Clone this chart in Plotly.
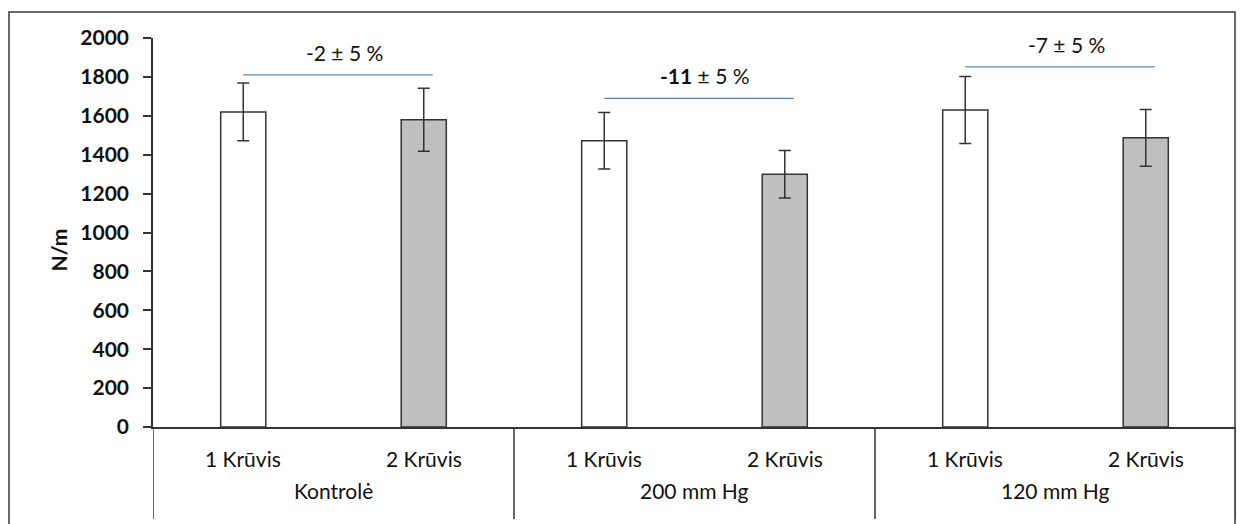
import plotly.graph_objects as go

# duomenys
groups = ["Kontrolė", "200 mm Hg", "120 mm Hg"]
loads = ["1 Krūvis", "2 Krūvis"]
load1_values = [1620, 1472, 1630]
load1_errors = [148, 145, 172]
load2_values = [1580, 1300, 1487]
load2_errors = [162, 122, 146]
diff_labels = ["-2 ± 5 %", "<b>-11</b> ± 5 %", "-7 ± 5 %"]
diff_levels = [1810, 1690, 1852]

W, H = 1240, 524
L, R, T, B = 153, 4, 38, 97
PW, PH = W - L - R, H - T - B
FONT = "Lato"
INK = "#333333"
TXT = "#111111"


def px_x(px):
    return (px - L) / PW


def px_y(py):
    return (H - B - py) / PH


x1 = [2 * i for i in range(len(groups))]
x2 = [2 * i + 1 for i in range(len(groups))]

fig = go.Figure()
fig.add_trace(go.Bar(
    x=x1, y=load1_values, width=0.25,
    marker=dict(color="white", line=dict(color=INK, width=1.5)),
    error_y=dict(type="data", array=load1_errors, color=INK, thickness=1.5, width=6),
    name=loads[0], showlegend=False,
))
fig.add_trace(go.Bar(
    x=x2, y=load2_values, width=0.25,
    marker=dict(color="#bfbfbf", line=dict(color=INK, width=1.5)),
    error_y=dict(type="data", array=load2_errors, color=INK, thickness=1.5, width=6),
    name=loads[1], showlegend=False,
))

shapes = []
annotations = []

# skirtumų linijos ir užrašai
for i, (lab, lvl) in enumerate(zip(diff_labels, diff_levels)):
    shapes.append(dict(type="line", xref="x", yref="y",
                       x0=2 * i, x1=2 * i + 1.05, y0=lvl, y1=lvl,
                       line=dict(color="#5b86b5", width=1.2)))
    annotations.append(dict(x=2 * i + 0.56, y=lvl + 115, xref="x", yref="y",
                            text=lab, showarrow=False,
                            font=dict(family=FONT, size=21, color=TXT)))

# kategorijų užrašai
for i, g in enumerate(groups):
    for j, ld in enumerate(loads):
        annotations.append(dict(x=2 * i + j, y=px_y(459), xref="x", yref="paper",
                                text=ld, showarrow=False, yanchor="middle",
                                font=dict(family=FONT, size=21, color=TXT)))
    annotations.append(dict(x=2 * i + 0.5, y=px_y(490), xref="x", yref="paper",
                            text=g, showarrow=False, yanchor="middle",
                            font=dict(family=FONT, size=21, color=TXT)))

# grupių skirtukai
for xs in [-0.5, 1.5, 3.5, 5.5]:
    shapes.append(dict(type="line", xref="x", yref="paper",
                       x0=xs, x1=xs, y0=0, y1=px_y(519),
                       line=dict(color=INK, width=1.5)))

# diagramos rėmelis
shapes.append(dict(type="rect", xref="paper", yref="paper",
                   x0=px_x(9), x1=px_x(1235), y0=px_y(540), y1=px_y(12),
                   line=dict(color="#3a3a3a", width=1.5)))

annotations.append(dict(x=px_x(43), y=px_y(250), xref="paper", yref="paper",
                        text="<b>N/m</b>", textangle=-90, showarrow=False,
                        font=dict(family=FONT, size=21, color=TXT)))

fig.update_layout(
    width=W, height=H,
    margin=dict(l=L, r=R, t=T, b=B),
    paper_bgcolor="white", plot_bgcolor="white",
    barmode="overlay",
    shapes=shapes, annotations=annotations,
    font=dict(family=FONT, color=TXT),
    xaxis=dict(range=[-0.5, 5.5], showline=True, linecolor=INK, linewidth=1.5,
               showgrid=False, zeroline=False, showticklabels=False, ticks=""),
    yaxis=dict(range=[0, 2000], dtick=200, showline=True, linecolor=INK, linewidth=1.5,
               showgrid=False, zeroline=False, ticks="outside", ticklen=8,
               tickcolor=INK, tickwidth=1.5, ticklabelstandoff=10,
               tickfont=dict(family=FONT, size=21, color=TXT, weight="bold")),
)

# be numatytosios puslapio paraštės ir be įrankių juostos
fig.write_html("out.html", config={"displayModeBar": False},
               post_script="document.body.style.margin='0';document.body.style.overflow='hidden';")
